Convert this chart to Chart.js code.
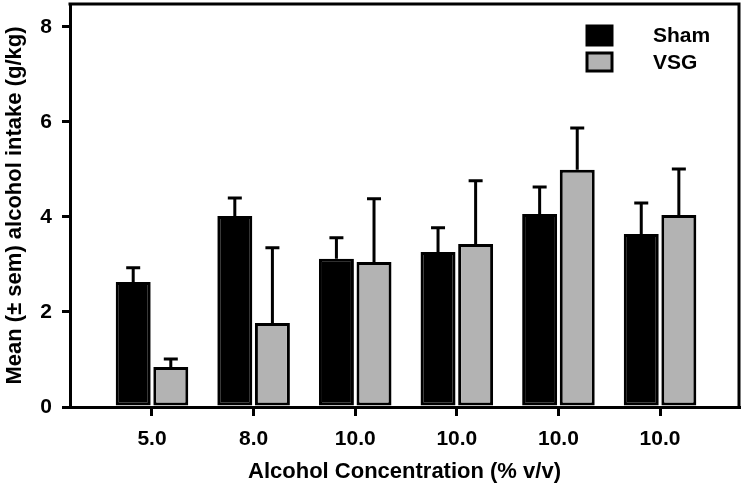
<!DOCTYPE html>
<html>
<head>
<meta charset="utf-8">
<script src="https://cdn.jsdelivr.net/npm/chart.js@4/dist/chart.umd.min.js"></script>
<style>
  html, body { margin: 0; padding: 0; background: #ffffff; }
  #wrap { width: 747px; height: 490px; }
</style>
</head>
<body>
<div id="wrap"><canvas id="c" width="747" height="490"></canvas></div>
<script>
// ---- data ----
const categories = ['5.0', '8.0', '10.0', '10.0', '10.0', '10.0'];
const seriesNames = ['Sham', 'VSG'];
const shamMean = [2.63, 4.02, 3.12, 3.26, 4.06, 3.64];
const shamSem  = [0.30, 0.38, 0.44, 0.51, 0.57, 0.65];
const vsgMean  = [0.84, 1.77, 3.05, 3.43, 4.99, 4.04];
const vsgSem   = [0.17, 1.58, 1.33, 1.33, 0.88, 0.97];
const yTicks   = [0, 2, 4, 6, 8];

const FAMILY = 'Liberation Sans, Arial, sans-serif';
const TICK_FONT = { family: FAMILY, weight: 'bold', size: 21 };
const TITLE_FONT = { family: FAMILY, weight: 'bold', size: 22 };
const GRAY = '#b3b3b3';

const semSets = [shamSem, vsgSem];

const errorBars = {
  id: 'errorBars',
  afterDatasetsDraw(chart) {
    const ctx = chart.ctx;
    const ys = chart.scales.y;
    ctx.save();
    ctx.strokeStyle = '#000';
    ctx.lineWidth = 3;
    chart.data.datasets.forEach((ds, di) => {
      const meta = chart.getDatasetMeta(di);
      meta.data.forEach((el, i) => {
        const v = ds.data[i].y;
        const top = ys.getPixelForValue(v + semSets[di][i]);
        ctx.beginPath();
        ctx.moveTo(el.x, el.y);
        ctx.lineTo(el.x, top);
        ctx.moveTo(el.x - 7, top);
        ctx.lineTo(el.x + 7, top);
        ctx.stroke();
      });
    });
    ctx.restore();
  }
};

const frameAndLegend = {
  id: 'frameAndLegend',
  afterDraw(chart) {
    const ctx = chart.ctx;
    const a = chart.chartArea;
    ctx.save();
    ctx.strokeStyle = '#000';
    ctx.lineWidth = 3;
    ctx.beginPath();
    ctx.moveTo(a.left - 1.5, a.top);
    ctx.lineTo(a.right, a.top);
    ctx.lineTo(a.right, a.bottom + 1.5);
    ctx.stroke();
    // legend
    const bx = a.right - 152, bw = 25;
    const rows = [{ y: a.top + 22, h: 19 }, { y: a.top + 49, h: 18 }];
    chart.data.datasets.forEach((ds, di) => {
      const r = rows[di];
      ctx.fillStyle = ds.backgroundColor;
      ctx.fillRect(bx, r.y, bw, r.h);
      ctx.lineWidth = 3;
      ctx.strokeStyle = '#000';
      ctx.strokeRect(bx, r.y, bw, r.h);
      ctx.fillStyle = '#000';
      ctx.font = 'bold 21px "Liberation Sans", Arial, sans-serif';
      ctx.textBaseline = 'middle';
      ctx.textAlign = 'left';
      ctx.fillText(ds.label, bx + 66, r.y + r.h / 2 + 1);
    });
    ctx.restore();
  }
};

new Chart(document.getElementById('c'), {
  type: 'bar',
  data: {
    datasets: [
      {
        label: seriesNames[0],
        data: categories.map((c, i) => ({ x: i, y: shamMean[i] })),
        backgroundColor: '#000000',
        borderColor: '#000000',
        borderWidth: 3,
        borderSkipped: false
      },
      {
        label: seriesNames[1],
        data: categories.map((c, i) => ({ x: i, y: vsgMean[i] })),
        backgroundColor: GRAY,
        borderColor: '#000000',
        borderWidth: 3,
        borderSkipped: false
      }
    ]
  },
  options: {
    responsive: false,
    animation: false,
    devicePixelRatio: 1,
    categoryPercentage: 0.74,
    barPercentage: 0.93,
    layout: { padding: { top: 4, right: 8, left: 0, bottom: 0 } },
    plugins: { legend: { display: false }, tooltip: { enabled: false } },
    scales: {
      x: {
        type: 'linear',
        offset: false,
        min: -0.807,
        max: 5.777,
        afterFit(s) { s.height = 83; s.paddingLeft = 0; s.paddingRight = 0; },
        ticks: {
          stepSize: 1,
          includeBounds: false,
          color: '#000',
          font: TICK_FONT,
          padding: 11,
          maxRotation: 0,
          autoSkip: false,
          callback: (v) => categories[v] !== undefined && Number.isInteger(v) ? categories[v] : ''
        },
        grid: { offset: false, drawOnChartArea: false, drawTicks: true, tickLength: 9, lineWidth: 3, color: '#000' },
        border: { display: true, width: 3, color: '#000' },
        title: { display: true, text: 'Alcohol Concentration (% v/v)', color: '#000', font: TITLE_FONT, padding: { top: 0, bottom: 5 } }
      },
      y: {
        min: 0,
        max: 8.48,
        afterFit(s) { s.width = 70; s.paddingTop = 0; s.paddingBottom = 0; },
        afterBuildTicks(s) { s.ticks = yTicks.map(v => ({ value: v })); },
        ticks: { color: '#000', font: TICK_FONT, padding: 10 },
        grid: { drawOnChartArea: false, drawTicks: true, tickLength: 8, lineWidth: 3, color: '#000' },
        border: { display: true, width: 3, color: '#000' },
        title: { display: true, text: 'Mean (± sem) alcohol intake (g/kg)', color: '#000', font: TITLE_FONT, padding: { top: 2, bottom: 0 } }
      }
    }
  },
  plugins: [errorBars, frameAndLegend]
});
</script>
</body>
</html>
